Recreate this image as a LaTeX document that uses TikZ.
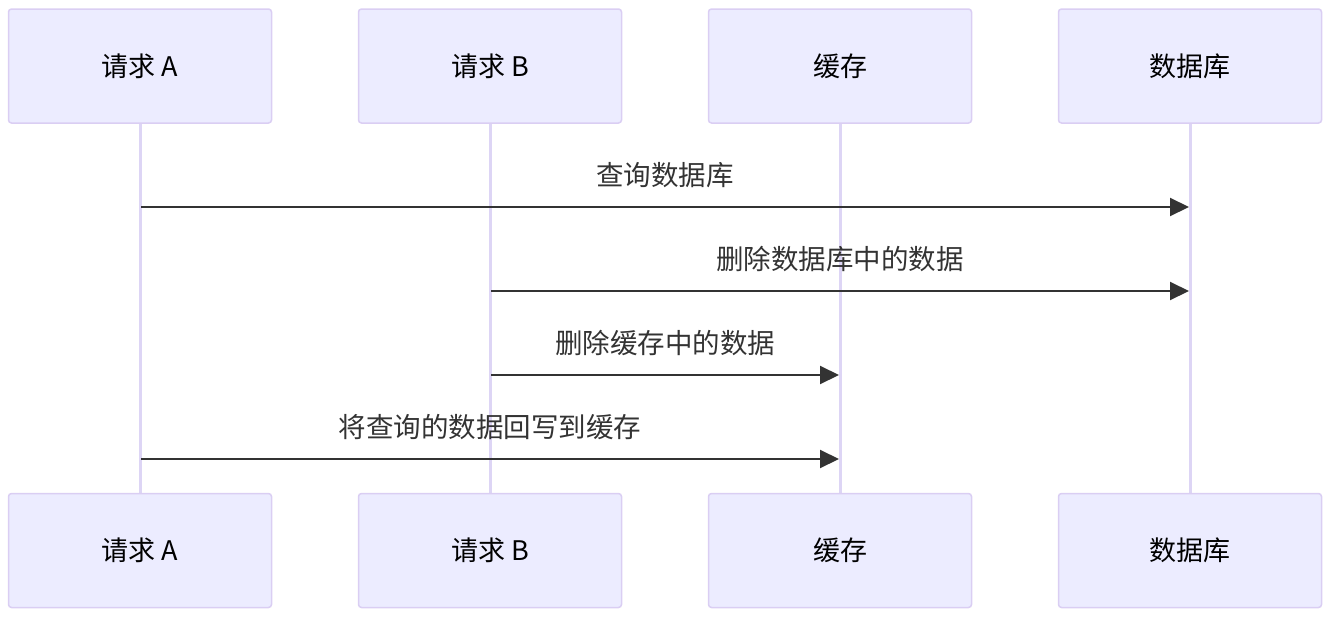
\documentclass[tikz,border=0pt]{standalone}
\usepackage{fontspec}
\setmainfont{Noto Sans CJK SC}
\usepackage{xcolor}
\usetikzlibrary{arrows.meta,positioning}

\definecolor{actorfill}{HTML}{ECECFF}
\definecolor{actorline}{HTML}{DACEF3}
\definecolor{lifeline}{HTML}{DDD5F5}
\definecolor{msgline}{HTML}{333333}

\tikzset{
  actor/.style={draw=actorline, fill=actorfill, line width=1.5pt, rounded corners=3pt,
    minimum width=263pt, minimum height=114pt, inner sep=0pt,
    font=\fontsize{27}{32}\selectfont, text=black},
  life/.style={draw=lifeline, line width=3pt},
  msg/.style={draw=msgline, line width=2pt, -{Triangle[length=19pt,width=18pt]}},
  msglabel/.style={midway, yshift=32pt, font=\fontsize{27.5}{32}\selectfont, text=msgline},
}

\begin{document}
\begin{tikzpicture}[x=1pt, y=-1pt]
  \useasboundingbox (0,0) rectangle (1330,616);
  % --- Lifelines (drawn first, boxes cover the ends) ---
  \coordinate (la) at (140,123);
  \coordinate (lb) at (490,123);
  \coordinate (lc) at (840,123);
  \coordinate (ld) at (1190,123);
  \coordinate (ea) at (140,494);
  \coordinate (eb) at (490,494);
  \coordinate (ec) at (840,494);
  \coordinate (ed) at (1190,494);
  \draw[life] (la) -- (ea);
  \draw[life] (lb) -- (eb);
  \draw[life] (lc) -- (ec);
  \draw[life] (ld) -- (ed);
  % --- Actors, top row ---
  \node[actor] (ta) at (140,66) {请求 A};
  \node[actor] (tb) at (490,66) {请求 B};
  \node[actor] (tc) at (840,66) {缓存};
  \node[actor] (td) at (1190,66) {数据库};
  % --- Actors, bottom row ---
  \node[actor] (ba) at (140,550.5) {请求 A};
  \node[actor] (bb) at (490,550.5) {请求 B};
  \node[actor] (bc) at (840,550.5) {缓存};
  \node[actor] (bd) at (1190,550.5) {数据库};
  % --- Message ends on the lifelines ---
  \coordinate (a1) at (141,207);
  \coordinate (d1) at (1189,207);
  \coordinate (b2) at (491,291);
  \coordinate (d2) at (1189,291);
  \coordinate (b3) at (491,375);
  \coordinate (c3) at (839,375);
  \coordinate (a4) at (141,459);
  \coordinate (c4) at (839,459);
  % --- Messages ---
  \draw[msg] (a1) -- node[msglabel] {查询数据库} (d1);
  \draw[msg] (b2) -- node[msglabel] {删除数据库中的数据} (d2);
  \draw[msg] (b3) -- node[msglabel] {删除缓存中的数据} (c3);
  \draw[msg] (a4) -- node[msglabel] {将查询的数据回写到缓存} (c4);
\end{tikzpicture}
\end{document}
